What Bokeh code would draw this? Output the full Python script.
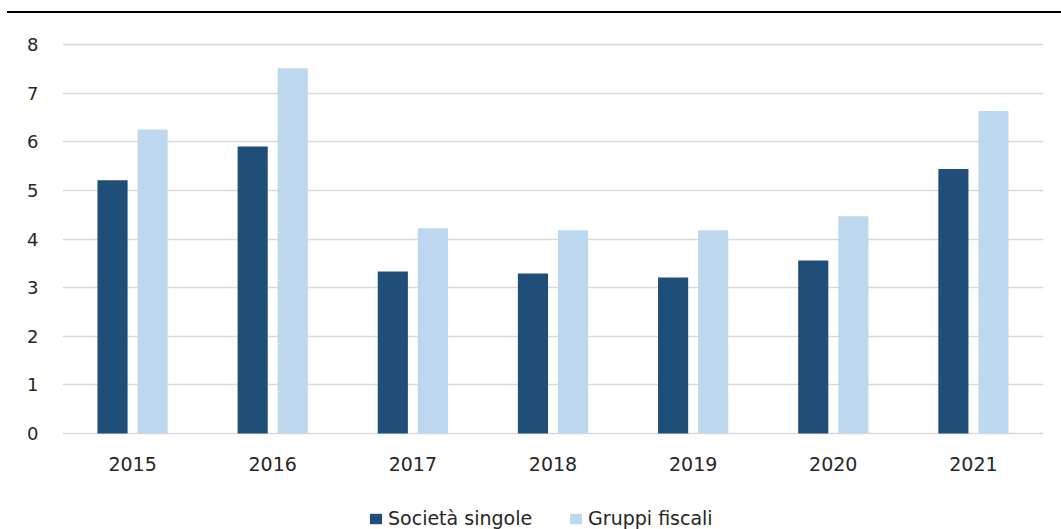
from bokeh.plotting import figure
from bokeh.models import (ColumnDataSource, FactorRange, Range1d, FixedTicker, Legend,
                          LegendItem, LabelSet, Div)
from bokeh.core.properties import value
from bokeh.transform import dodge
from bokeh.layouts import column
from bokeh.embed import file_html
from bokeh.resources import INLINE

years = ["2015", "2016", "2017", "2018", "2019", "2020", "2021"]
societa_singole = [5.21, 5.90, 3.33, 3.29, 3.21, 3.56, 5.44]
gruppi_fiscali = [6.25, 7.51, 4.22, 4.18, 4.18, 4.47, 6.63]
y_ticks = [0, 1, 2, 3, 4, 5, 6, 7, 8]
series_names = ["Società singole", "Gruppi fiscali"]

DARK = "#1f4e79"
LIGHT = "#bdd7ee"
FONT = "DejaVu Sans"
TXT = "#262626"

src = ColumnDataSource(dict(years=years, s=societa_singole, g=gruppi_fiscali,
                            base=[0] * len(years)))

# frame reaches the bottom of the canvas so that the year labels and the legend live inside it
p = figure(x_range=FactorRange(*years), y_range=Range1d(-1.974, 8.041),
           width=1061, height=516, output_backend="svg", toolbar_location=None,
           x_axis_location=None,
           min_border_left=62, min_border_right=18, min_border_top=29, min_border_bottom=0)

r1 = p.vbar(x=dodge("years", -0.143, range=p.x_range), top="s", width=0.215,
            source=src, fill_color=DARK, line_color=None)
r2 = p.vbar(x=dodge("years", 0.143, range=p.x_range), top="g", width=0.215,
            source=src, fill_color=LIGHT, line_color=None)

p.outline_line_color = None
p.background_fill_color = "white"
p.border_fill_color = "white"

p.xgrid.grid_line_color = None
p.ygrid.grid_line_color = "#d9d9d9"
p.ygrid.grid_line_width = 1.5
p.yaxis.ticker = FixedTicker(ticks=y_ticks)

ax = p.yaxis[0]
ax.axis_line_color = None
ax.major_tick_line_color = None
ax.minor_tick_line_color = None
ax.major_tick_out = 0
ax.major_tick_in = 0
ax.major_label_text_font = FONT
ax.major_label_text_font_size = "18px"
ax.major_label_text_color = TXT
ax.major_label_standoff = 24

year_labels = LabelSet(x="years", y="base", text="years", source=src,
                       y_offset=-23, text_align="center", text_baseline="top",
                       text_font=value(FONT), text_font_size=value("19px"),
                       text_color=TXT)
p.add_layout(year_labels)

legend = Legend(items=[LegendItem(label=series_names[0], renderers=[r1]),
                       LegendItem(label=series_names[1], renderers=[r2])],
                location=(306, 0), orientation="horizontal",
                border_line_color=None, background_fill_alpha=0,
                padding=0, margin=0, spacing=36,
                glyph_width=15, glyph_height=13, label_standoff=5,
                label_text_font=FONT, label_text_font_size="19px",
                label_text_color=TXT)
p.add_layout(legend, "center")

top_rule = Div(text="", width=1054, height=13, margin=(0, 0, 0, 7),
               styles={"border-bottom": "2px solid #000000", "box-sizing": "border-box"})

layout = column(top_rule, p, spacing=0)

open("out.html", "w").write(file_html(layout, INLINE))
